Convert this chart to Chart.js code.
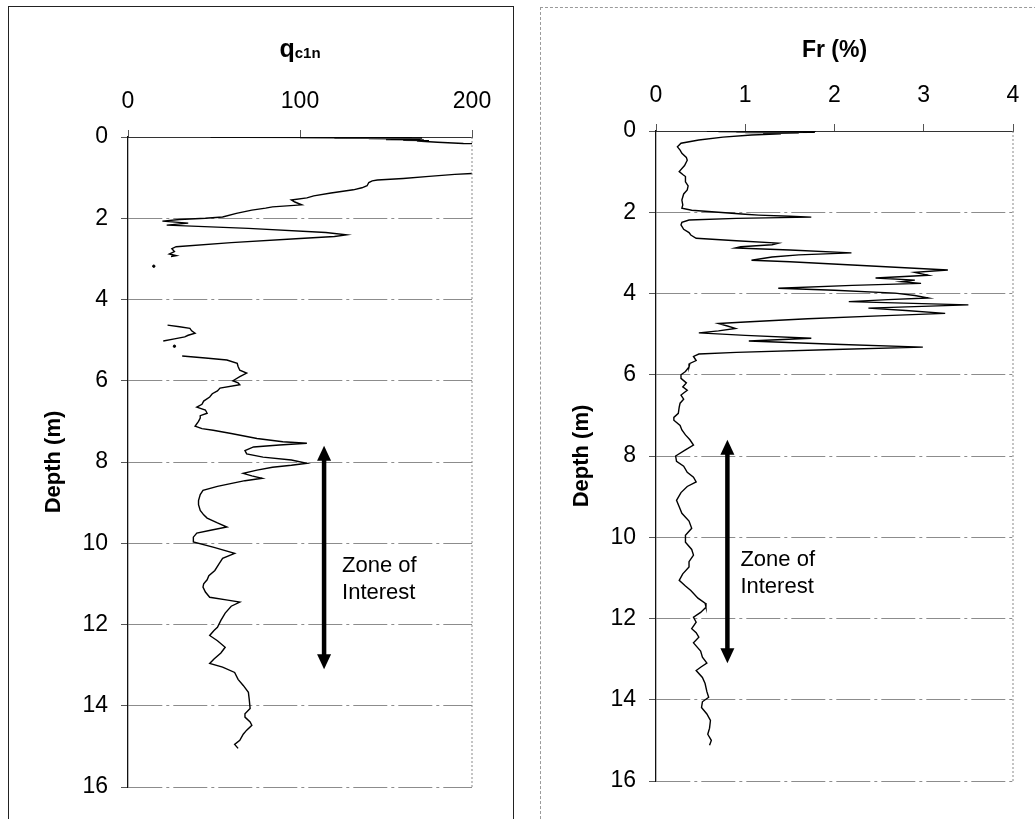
<!DOCTYPE html>
<html>
<head>
<meta charset="utf-8">
<script src="https://cdn.jsdelivr.net/npm/chart.js@4.4.1/dist/chart.umd.min.js"></script>
<style>
  body { margin: 0; background: #fff; width: 1035px; height: 819px; overflow: hidden; position: relative; }
  #f1 { position: absolute; left: 8px; top: 6px; width: 504px; height: 830px; border: 1.5px solid #222; }
  #f2 { position: absolute; left: 540px; top: 7px; width: 520px; height: 830px; border: 1px dashed #9a9a9a; }
  #w1 { position: absolute; left: 0; top: 0; width: 520px; height: 819px; }
  #w2 { position: absolute; left: 528px; top: 0; width: 507px; height: 819px; }
</style>
</head>
<body>
<div id="f1"></div>
<div id="f2"></div>
<div id="w1"><canvas id="qChart" width="520" height="819"></canvas></div>
<div id="w2"><canvas id="frChart" width="507" height="819"></canvas></div>
<script>
// depth (m) and normalised cone resistance, null = gap in the record
const qDepth = [0.00,0.005,0.01,0.015,0.02,0.025,0.03,0.035,0.04,0.05,0.06,0.07,0.08,0.09,0.10,0.13,0.16,0.17,0.50,0.88,0.90,0.92,0.97,1.02,1.06,1.08,1.12,1.20,1.25,1.30,1.38,1.45,1.50,1.55,1.60,1.67,1.72,1.75,1.80,1.88,1.97,2.00,2.03,2.07,2.12,2.17,2.25,2.35,2.41,2.45,2.50,2.60,2.70,2.75,2.82,2.88,2.92,2.94,3.00,
  4.63,4.67,4.71,4.77,4.83,4.88,4.92,4.97,5.02,5.10,
  5.39,5.44,5.49,5.57,5.65,5.74,5.81,5.90,6.00,6.05,6.10,6.18,6.25,6.32,6.40,6.50,6.58,6.65,6.72,6.80,6.86,6.92,7.00,7.12,7.18,7.22,7.30,7.42,7.50,7.54,7.58,7.63,7.72,7.80,7.88,7.95,8.03,8.08,8.13,8.20,8.28,8.34,8.40,8.46,8.52,8.60,8.70,8.80,8.95,9.05,9.19,9.30,9.38,9.50,9.60,9.68,9.75,9.85,9.97,10.10,10.25,10.37,10.50,10.67,10.80,10.90,11.00,11.08,11.20,11.33,11.40,11.45,11.55,11.72,11.90,12.07,12.15,12.27,12.40,12.56,12.70,12.85,12.96,13.05,13.18,13.35,13.50,13.67,13.85,14.07,14.20,14.28,14.40,14.48,14.60,14.70,14.85,14.95,15.05];
const qc1n = [48,150,60,165,100,171,120,168,140,170,150,172,160,175,168,180,195,215,260,215,200,190,175,160,145,142,140,139,136,131,118,108,104,95,97,101,84,80,72,63,55,45,30,20,35,22.5,70,115,127,120,100,60,28,25.5,27,24,28,25,null,
  23,30,36,37,39,35,33,27,20.5,null,
  31.5,45,57.5,63.5,64,65,69,65,61,64,65,53.5,52,49,47.5,44,43,40,45,46,42,42,41,39,43,49.5,60,75,90,104,88,73,68,69,78.5,95,104,95,84,75,67,72,78,68,61,52,43.6,42,41,41,42,44,46,52,57.5,48,40,38,38,50,62,55,53,50.5,47,46,44,43.6,45,47.5,58,65,60,56.5,54,52,50,47.5,52,56.5,54,50,47.5,55,62,64,67,70,70.5,71,68,68,71,72,69,67,65,62,64];
// isolated readings
const qDotDepth = [3.18, 5.15];
const qDotVal = [15, 27];

// depth (m) and friction ratio (%)
const frDepth = [0.00,0.005,0.01,0.015,0.02,0.025,0.03,0.035,0.04,0.05,0.06,0.07,0.10,0.15,0.22,0.30,0.39,0.47,0.55,0.65,0.72,0.85,1.00,1.07,1.12,1.25,1.35,1.45,1.55,1.70,1.82,1.90,1.95,2.00,2.05,2.07,2.10,2.12,2.15,2.19,2.25,2.31,2.42,2.50,2.56,2.64,2.70,2.76,2.80,2.85,2.88,2.93,3.00,3.05,3.10,3.18,3.22,3.30,3.42,3.48,3.55,3.62,3.67,3.71,3.75,3.80,3.87,3.92,3.99,4.05,4.11,4.15,4.20,4.28,4.36,4.42,4.49,4.55,4.62,4.70,4.74,4.80,4.86,4.92,4.97,5.03,5.10,5.17,5.25,5.32,5.38,5.45,5.49,5.55,5.65,5.72,5.81,5.92,6.00,6.09,6.20,6.30,6.38,6.50,6.60,6.70,6.80,6.95,7.05,7.12,7.25,7.36,7.48,7.60,7.73,7.85,8.00,8.13,8.25,8.40,8.52,8.64,8.75,8.90,9.09,9.25,9.41,9.60,9.78,9.95,10.12,10.30,10.44,10.60,10.73,10.90,11.06,11.20,11.31,11.50,11.62,11.72,11.85,11.97,12.09,12.25,12.35,12.46,12.60,12.80,12.95,13.10,13.20,13.28,13.45,13.60,13.80,13.94,14.05,14.19,14.35,14.51,14.70,14.85,15.00,15.12];
const fr = [0.57,1.79,0.60,1.75,0.70,1.70,0.90,1.78,1.00,1.60,1.20,1.40,1.07,0.75,0.48,0.28,0.24,0.27,0.29,0.34,0.35,0.32,0.26,0.30,0.33,0.33,0.36,0.35,0.31,0.29,0.30,0.29,0.40,0.70,1.00,1.15,1.50,1.74,0.90,0.37,0.29,0.28,0.31,0.37,0.39,0.45,0.90,1.37,1.30,0.95,0.89,1.50,2.19,1.60,1.30,1.07,1.50,2.20,3.27,2.90,3.05,2.46,2.90,2.75,2.97,2.20,1.37,2.00,2.68,2.90,3.05,2.60,2.16,3.50,2.38,2.80,3.24,2.50,1.70,1.00,0.70,0.80,0.89,0.70,0.48,1.00,1.74,1.04,2.00,2.99,2.00,0.90,0.48,0.42,0.45,0.38,0.37,0.33,0.28,0.28,0.34,0.30,0.35,0.28,0.31,0.27,0.26,0.25,0.20,0.20,0.27,0.29,0.33,0.38,0.42,0.33,0.22,0.23,0.31,0.35,0.42,0.45,0.35,0.28,0.23,0.26,0.29,0.37,0.40,0.33,0.33,0.40,0.42,0.37,0.37,0.30,0.26,0.33,0.39,0.47,0.55,0.56,0.50,0.42,0.45,0.40,0.45,0.48,0.42,0.50,0.52,0.57,0.50,0.45,0.52,0.55,0.57,0.59,0.52,0.51,0.57,0.61,0.60,0.58,0.62,0.60];

// zone of interest (depth range) and where its arrow sits on each plot
const zoneTop = 7.6;
const zoneBottom = 13.1;
const zoneQ = 114;
const zoneFr = 0.8;

const qTicks = [0, 100, 200];
const frTicks = [0, 1, 2, 3, 4];
const depthTicks = [0, 2, 4, 6, 8, 10, 12, 14, 16];

function pts(depths, vals) {
  return depths.map((d, i) => ({ x: vals[i], y: d }));
}

Chart.defaults.font.family = 'Arial, "Liberation Sans", sans-serif';
Chart.defaults.color = '#000';

// arrows, zone text, plot frame and the subscript title
const decor = {
  id: 'decor',
  afterDraw(chart, args, opts) {
    const { ctx, chartArea: a, scales: { x, y } } = chart;
    ctx.save();
    // dotted right edge of the plot area
    ctx.strokeStyle = '#8a8a8a';
    ctx.lineWidth = 1;
    ctx.setLineDash([2, 2]);
    ctx.beginPath();
    ctx.moveTo(a.right, a.top);
    ctx.lineTo(a.right, a.bottom);
    ctx.stroke();
    ctx.setLineDash([]);

    const ax = x.getPixelForValue(opts.zoneX);
    const y1 = y.getPixelForValue(zoneTop);
    const y2 = y.getPixelForValue(zoneBottom);
    ctx.fillStyle = '#000';
    ctx.strokeStyle = '#000';
    ctx.lineWidth = 4.5;
    ctx.beginPath();
    ctx.moveTo(ax, y1 + 12);
    ctx.lineTo(ax, y2 - 12);
    ctx.stroke();
    ctx.beginPath();
    ctx.moveTo(ax, y1); ctx.lineTo(ax - 7, y1 + 15); ctx.lineTo(ax + 7, y1 + 15); ctx.closePath();
    ctx.fill();
    ctx.beginPath();
    ctx.moveTo(ax, y2); ctx.lineTo(ax - 7, y2 - 15); ctx.lineTo(ax + 7, y2 - 15); ctx.closePath();
    ctx.fill();

    const ym = y.getPixelForValue((zoneTop + zoneBottom) / 2);
    ctx.font = '22px Arial, "Liberation Sans", sans-serif';
    ctx.textAlign = 'left';
    ctx.textBaseline = 'alphabetic';
    ctx.fillText('Zone of', ax + opts.textGap, ym + 15);
    ctx.fillText('Interest', ax + opts.textGap, ym + 42);

    if (opts.sub) {
      const cx = (a.left + a.right) / 2;
      ctx.font = 'bold 25px Arial, "Liberation Sans", sans-serif';
      const w1 = ctx.measureText('q').width;
      ctx.font = 'bold 15px Arial, "Liberation Sans", sans-serif';
      const w2 = ctx.measureText('c1n').width;
      const x0 = cx - (w1 + w2) / 2;
      ctx.font = 'bold 25px Arial, "Liberation Sans", sans-serif';
      ctx.fillText('q', x0, 57);
      ctx.font = 'bold 15px Arial, "Liberation Sans", sans-serif';
      ctx.fillText('c1n', x0 + w1, 58);
    }
    ctx.restore();
  }
};

function scalesFor(xMin, xMax, xTicks, xTitle, axisH) {
  return {
    x: {
      type: 'linear', position: 'top', min: xMin, max: xMax,
      afterBuildTicks: s => { s.ticks = xTicks.map(v => ({ value: v })); },
      afterFit: s => { s.height = axisH; },
      ticks: { font: { size: 23 }, padding: 15, maxRotation: 0 },
      grid: { drawOnChartArea: false, drawTicks: true, tickLength: 7, color: '#555' },
      border: { display: true, color: '#333', width: 1 },
      title: xTitle
    },
    y: {
      type: 'linear', reverse: true, min: 0, max: 16,
      afterBuildTicks: s => { s.ticks = depthTicks.map(v => ({ value: v })); },
      afterFit: s => { s.width = 128; },
      ticks: { font: { size: 23 }, padding: 13 },
      grid: {
        color: c => (c.tick && c.tick.value === 0) ? 'rgba(0,0,0,0)' : '#8c8c8c',
        tickColor: '#555', tickLength: 7, lineWidth: 1
      },
      border: { display: true, color: '#111', width: 1.3, dash: [34, 4, 3, 4] },
      title: { display: true, text: 'Depth (m)', font: { size: 22, weight: 'bold' }, padding: { top: 41, bottom: 0 } }
    }
  };
}

new Chart(document.getElementById('qChart'), {
  type: 'scatter',
  data: {
    datasets: [{
      label: 'qc1n',
      data: pts(qDepth, qc1n),
      showLine: true, borderColor: '#000', borderWidth: 1.4, pointRadius: 0, spanGaps: false
    }, {
      label: 'isolated',
      data: pts(qDotDepth, qDotVal),
      showLine: false, pointRadius: 1.2, backgroundColor: '#000', borderColor: '#000'
    }]
  },
  options: {
    responsive: false, animation: false, devicePixelRatio: 1,
    layout: { padding: { left: 0, top: 0, right: 48, bottom: 32 } },
    plugins: { legend: { display: false }, tooltip: { enabled: false },
      decor: { zoneX: zoneQ, textGap: 18, sub: true } },
    scales: scalesFor(0, 200, qTicks, { display: false }, 137)
  },
  plugins: [decor]
});

new Chart(document.getElementById('frChart'), {
  type: 'scatter',
  data: {
    datasets: [{
      label: 'Fr',
      data: pts(frDepth, fr),
      showLine: true, borderColor: '#000', borderWidth: 1.4, pointRadius: 0
    }]
  },
  options: {
    responsive: false, animation: false, devicePixelRatio: 1,
    layout: { padding: { left: 0, top: 0, right: 22, bottom: 38 } },
    plugins: { legend: { display: false }, tooltip: { enabled: false },
      decor: { zoneX: zoneFr, textGap: 13, sub: false } },
    scales: scalesFor(0, 4, frTicks,
      { display: true, text: 'Fr (%)', font: { size: 23, weight: 'bold' }, padding: { top: 37, bottom: 0 } }, 131)
  },
  plugins: [decor]
});
</script>
</body>
</html>
